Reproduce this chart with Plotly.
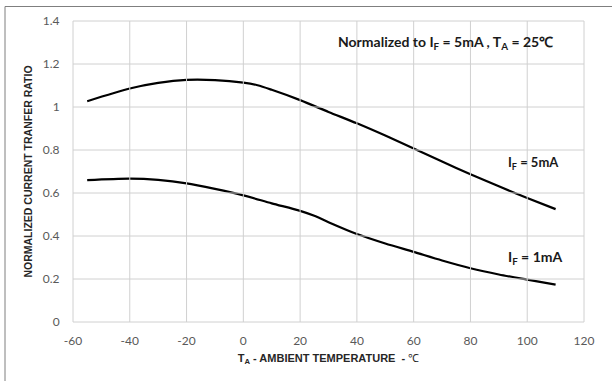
import plotly.graph_objects as go

temp_5ma = [-55, -40, -30, -20, -10, 0, 5, 10, 20, 30, 40, 50, 60, 70, 80, 90, 100, 110]
ctr_5ma = [1.027, 1.086, 1.112, 1.126, 1.125, 1.113, 1.101, 1.080, 1.032, 0.977, 0.924, 0.867, 0.807, 0.746, 0.687, 0.631, 0.577, 0.525]

temp_1ma = [-55, -40, -30, -20, -10, 0, 10, 20, 25, 30, 40, 50, 60, 70, 80, 90, 100, 110]
ctr_1ma = [0.660, 0.667, 0.661, 0.645, 0.619, 0.589, 0.552, 0.517, 0.494, 0.464, 0.409, 0.365, 0.326, 0.286, 0.250, 0.221, 0.197, 0.174]

x_ticks = [-60, -40, -20, 0, 20, 40, 60, 80, 100, 120]
y_ticks = [0, 0.2, 0.4, 0.6, 0.8, 1, 1.2, 1.4]
y_ticktext = ["0", "0.2", "0.4", "0.6", "0.8", "1", "1.2", "1.4"]

W, H = 612, 381
L, R, T, B = 73, 28, 21, 59
pw, ph = W - L - R, H - T - B

grid = "#d0d0d0"

fig = go.Figure()

# gridlines as paper-referenced shapes, positions derived from tick arrays
x_lo, x_hi = x_ticks[0], x_ticks[-1]
y_lo, y_hi = y_ticks[0], y_ticks[-1]
for xv in x_ticks:
    px = (xv - x_lo) / (x_hi - x_lo)
    fig.add_shape(type="line", xref="paper", yref="paper", x0=px, x1=px, y0=0, y1=1,
                  line=dict(color=grid, width=1), layer="above")
for yv in y_ticks:
    py = (yv - y_lo) / (y_hi - y_lo)
    fig.add_shape(type="line", xref="paper", yref="paper", x0=0, x1=1, y0=py, y1=py,
                  line=dict(color=grid, width=1), layer="above")

for xs, ys in [(temp_5ma, ctr_5ma), (temp_1ma, ctr_1ma)]:
    fig.add_trace(go.Scatter(x=xs, y=ys, mode="lines",
                             line=dict(color="#000000", width=2.2, shape="spline", smoothing=0.8),
                             showlegend=False, hoverinfo="skip"))

tickfont = dict(family="Lato, 'Open Sans', sans-serif", size=12, color="#595959")
fig.update_layout(
    width=W, height=H,
    margin=dict(l=L, r=R, t=T, b=B),
    paper_bgcolor="white", plot_bgcolor="rgba(0,0,0,0)",
    xaxis=dict(range=[x_lo, x_hi], tickmode="array", tickvals=x_ticks,
               ticktext=[str(v) for v in x_ticks],
               showgrid=False, showline=False,
               zeroline=False, ticks="outside", ticklen=8, tickcolor="rgba(0,0,0,0)",
               tickfont=tickfont,
               title=dict(text="<b>T<sub>A</sub> - AMBIENT TEMPERATURE  - </b>℃",
                          font=dict(family="Liberation Sans, Arial, sans-serif", size=11, color="#262626"),
                          standoff=6)),
    yaxis=dict(range=[y_lo, y_hi], tickmode="array", tickvals=y_ticks, ticktext=y_ticktext,
               showgrid=False, showline=False,
               zeroline=False, ticks="outside", ticklen=10, tickcolor="rgba(0,0,0,0)",
               tickfont=tickfont,
               title=dict(text="<b>NORMALIZED CURRENT TRANFER RATIO</b>",
                          font=dict(family="Liberation Sans, Arial, sans-serif", size=10.5, color="#262626"),
                          standoff=8)),
    font=dict(family="Lato, sans-serif"),
)

annfont = dict(family="Lato, 'Open Sans', sans-serif", size=14, color="#1a1a1a")
fig.add_annotation(xref="paper", yref="paper", x=(555 - L) / pw, y=1 - (42 - T) / ph,
                   xanchor="right", yanchor="middle", showarrow=False,
                   text="<b>Normalized to I<sub>F</sub> = 5mA , T<sub>A</sub> = 25℃</b>", font=annfont)
fig.add_annotation(xref="paper", yref="paper", x=(533 - L) / pw, y=1 - (163 - T) / ph,
                   xanchor="center", yanchor="middle", showarrow=False,
                   text="<b>I<sub>F</sub> = 5mA</b>", font=dict(annfont, size=13))
fig.add_annotation(xref="paper", yref="paper", x=(535 - L) / pw, y=1 - (257 - T) / ph,
                   xanchor="center", yanchor="middle", showarrow=False,
                   text="<b>I<sub>F</sub> = 1mA</b>", font=dict(annfont, size=14))

# outer frame (top and left edges of the cropped image border)
fx0 = (5 - L) / pw
fy_top = 1 + (T - 6.5) / ph
fy_bot = -(B) / ph - 0.01
fig.add_shape(type="line", xref="paper", yref="paper", x0=fx0, x1=(W - L) / pw + 0.01,
              y0=fy_top, y1=fy_top, line=dict(color="#7f7f7f", width=1))
fig.add_shape(type="line", xref="paper", yref="paper", x0=fx0, x1=fx0,
              y0=fy_top, y1=fy_bot, line=dict(color="#7f7f7f", width=1))

fig.write_html("out.html")
